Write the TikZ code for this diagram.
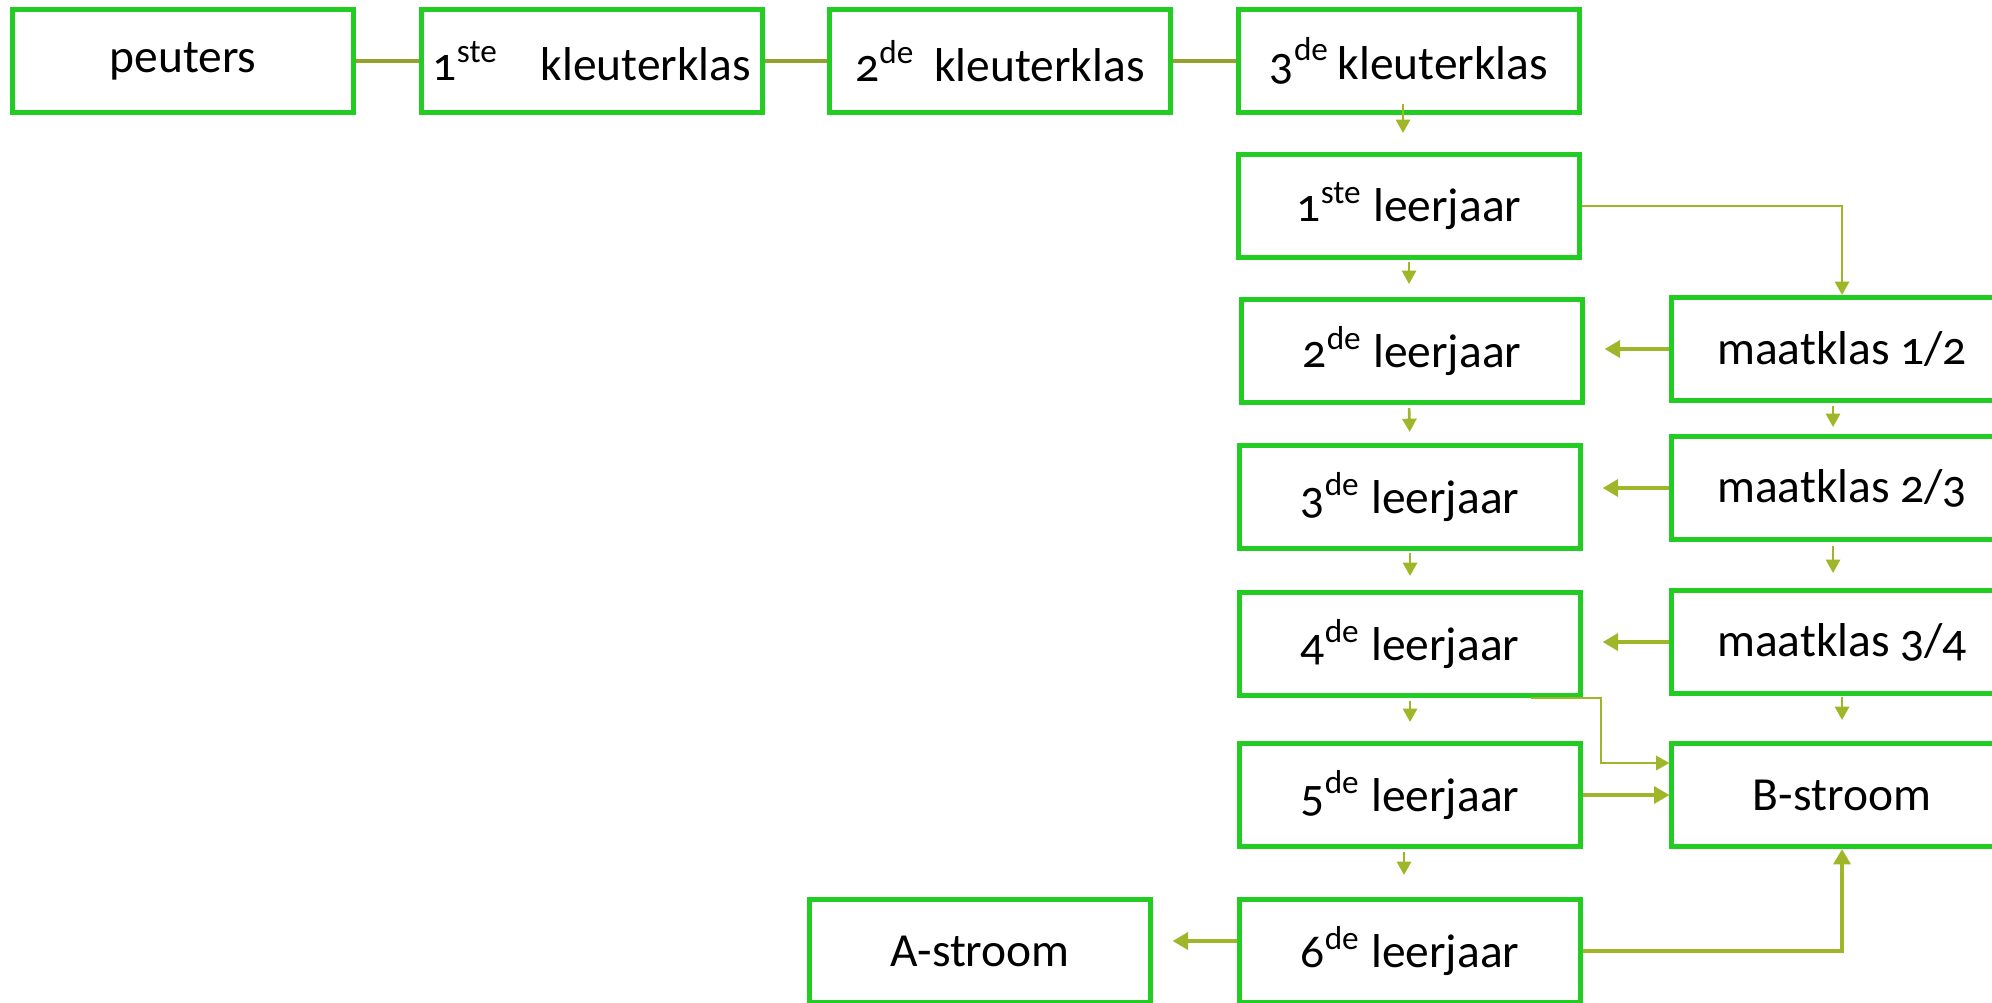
\documentclass[tikz,border=0pt]{standalone}
\usepackage{fontspec}
\setmainfont[Numbers=OldStyle]{Carlito}
\usetikzlibrary{arrows.meta}
\definecolor{boxgreen}{RGB}{34,204,34}
\definecolor{lineolive}{RGB}{150,160,45}
\definecolor{arrolive}{RGB}{160,182,40}
\tikzset{
    klas/.style={draw=boxgreen,line width=1.4pt,fill=white,minimum width=3.4cm,minimum height=1.03cm,inner sep=0pt,font=\fontsize{13.5}{16}\selectfont},
    tline/.style={lineolive,line width=1.1pt},
    arr/.style={arrolive,line width=0.75pt,-{Triangle[length=3.8pt,width=4pt]}},
    harr/.style={arrolive,line width=1.1pt,-{Triangle[length=4.4pt,width=4.8pt]}},
}
\begin{document}
\begin{tikzpicture}[x=0.01cm,y=-0.01cm]
                \useasboundingbox (0,0) rectangle (1992,1002);
                \clip (0,0) rectangle (1992,1002);
                %% kleuterklassen
                \node[klas] (peuters) at (183,61) {peuters};
                \node[klas] (kl1) at (592,61) {1\textsuperscript{ste}\hspace{0.42cm}kleuterklas};
                \node[klas] (kl2) at (1000,61) {2\textsuperscript{de}\hspace{0.19cm}kleuterklas};
                \node[klas] (kl3) at (1409,61) {3\textsuperscript{de}\,kleuterklas};
                %% leerjaren
                \node[klas] (lj1) at (1409,206) {1\textsuperscript{ste} leerjaar};
                \node[klas] (lj2) at (1412,351) {2\textsuperscript{de} leerjaar};
                \node[klas] (lj3) at (1410,497) {3\textsuperscript{de} leerjaar};
                \node[klas] (lj4) at (1410,644) {4\textsuperscript{de} leerjaar};
                \node[klas] (lj5) at (1410,795) {5\textsuperscript{de} leerjaar};
                \node[klas] (lj6) at (1410,951) {6\textsuperscript{de} leerjaar};
                \node[klas] (astr) at (980,951) {A-stroom};
                %% maatklassen
                \node[klas] (mk12) at (1842,349) {maatklas 1/2};
                \node[klas] (mk23) at (1842,488) {maatklas 2/3};
                \node[klas] (mk34) at (1842,642) {maatklas 3/4};
                \node[klas] (bstr) at (1842,795) {B-stroom};
                %% top row
                \draw[tline] (peuters) -- (kl1);
                \draw[tline] (kl1) -- (kl2);
                \draw[tline] (kl2) -- (kl3);
                %% down the leerjaren
                \draw[arr,shorten <=-0.11cm,shorten >=0.19cm] ([xshift=-0.06cm]kl3.south) -- ([xshift=-0.06cm]lj1.north);
                \draw[arr,shorten <=0.02cm,shorten >=0.13cm] (lj1.south) -- (lj1.south |- lj2.north);
                \draw[arr,shorten <=0.03cm,shorten >=0.11cm] ([xshift=-0.03cm]lj2.south) -- (lj3.north);
                \draw[arr,shorten <=0.02cm,shorten >=0.14cm] (lj3.south) -- (lj4.north);
                \draw[arr,shorten <=0.03cm,shorten >=0.19cm] (lj4.south) -- (lj5.north);
                \draw[arr,shorten <=0.03cm,shorten >=0.22cm] ([xshift=-0.06cm]lj5.south) -- ([xshift=-0.06cm]lj6.north);
                %% maatklassen column
                \draw[arr] (lj1.east) -| (mk12.north);
                \draw[arr,shorten <=0.03cm,shorten >=0.07cm] ([xshift=-0.09cm]mk12.south) -- ([xshift=-0.09cm]mk23.north);
                \draw[arr,shorten <=0.04cm,shorten >=0.15cm] ([xshift=-0.09cm]mk23.south) -- ([xshift=-0.09cm]mk34.north);
                \draw[arr,shorten <=0.01cm,shorten >=0.21cm] (mk34.south) -- (bstr.north);
                %% back to the leerjaren
                \draw[harr,shorten >=0.2cm] (mk12.west) -- (mk12.west -| lj2.east);
                \draw[harr,shorten >=0.2cm] (mk23.west) -- (mk23.west -| lj3.east);
                \draw[harr,shorten >=0.2cm] (mk34.west) -- (mk34.west -| lj4.east);
                %% naar B-stroom en A-stroom
                \draw[arr] ([xshift=1.21cm]lj4.south) -- ++(70,0) |- ([yshift=0.32cm]bstr.west);
                \draw[harr] (lj5.east) -- (bstr.west);
                \draw[harr] (lj6.east) -| (bstr.south);
                \draw[harr,shorten >=0.2cm] ([yshift=0.1cm]lj6.west) -- ([yshift=0.1cm]astr.east);
            \end{tikzpicture}
\end{document}
